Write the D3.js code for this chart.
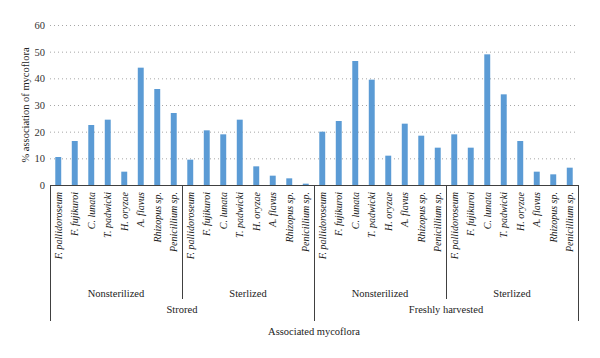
<!DOCTYPE html>
<html><head><meta charset="utf-8">
<script src="https://cdn.jsdelivr.net/npm/d3@7"></script>
<style>body{margin:0;background:#fff}</style>
</head><body>
<svg id="c" width="600" height="358"></svg>
<script>
const species = ["F. pallidoroseum","F. fujikuroi","C. lunata","T. padwicki","H. oryzae","A. flavus","Rhizopus sp.","Penicillium sp."];
const subgroups = ["Nonsterilized","Sterlized","Nonsterilized","Sterlized"];
const groups = ["Strored","Freshly harvested"];
const storedNonsterilized = [10.5,16.5,22.5,24.5,5,44,36,27];
const storedSterlized = [9.5,20.5,19,24.5,7,3.5,2.5,0.5];
const freshNonsterilized = [20,24,46.5,39.5,11,23,18.5,14];
const freshSterlized = [19,14,49,34,16.5,5,4,6.5];
const yTicks = [0,10,20,30,40,50,60];

const seriesList = [storedNonsterilized, storedSterlized, freshNonsterilized, freshSterlized];
const data = [];
seriesList.forEach((s,gi)=>s.forEach((v,i)=>data.push({key:gi+"_"+i, name:species[i], sub:gi, value:v})));

const svg = d3.select("#c");
const L=50, R=578, T=25, B=185;
const x = d3.scaleBand().domain(data.map(d=>d.key)).range([L,R]).paddingInner(0.64).paddingOuter(0.32);
const y = d3.scaleLinear().domain([0,60]).range([B,T]);
const serif = "'Liberation Serif','Times New Roman',serif";

// gridlines
svg.append("g").selectAll("line").data(yTicks.filter(t=>t>0)).join("line")
  .attr("x1",L).attr("x2",R).attr("y1",d=>y(d)+0.5).attr("y2",d=>y(d)+0.5)
  .attr("stroke","#a6a6a6").attr("stroke-width",1).attr("stroke-dasharray","1,3");

// y tick labels
const ya = svg.append("g").attr("transform",`translate(${L},0)`)
  .call(d3.axisLeft(y).tickValues(yTicks).tickSize(0).tickPadding(5));
ya.select(".domain").remove();
ya.selectAll("text").attr("font-family",serif).attr("font-size",10.5).attr("fill","#333");

// bars
svg.append("g").selectAll("rect").data(data).join("rect")
  .attr("x",d=>x(d.key)).attr("width",x.bandwidth())
  .attr("y",d=>y(d.value)).attr("height",d=>y(0)-y(d.value))
  .attr("fill","#5b9bd5");

// category axis
const xa = svg.append("g").attr("transform",`translate(0,${B})`)
  .call(d3.axisBottom(x).tickSize(0).tickFormat(k=>data.find(d=>d.key===k).name));
xa.select(".domain").remove();
xa.selectAll("text").attr("font-family",serif).attr("font-style","italic").attr("font-size",10)
  .attr("fill","#222").attr("text-anchor","end").attr("dy","0.35em")
  .attr("transform","translate(0,7) rotate(-90)").attr("x",0).attr("y",0);

// axis structure lines
const ln = svg.append("g").attr("stroke","#404040").attr("stroke-width",1);
ln.append("line").attr("x1",L).attr("x2",R).attr("y1",B+0.5).attr("y2",B+0.5);
const subW = (R-L)/4;
[0,1,2,3,4].forEach(i=>{
  const xx = Math.round(L+i*subW)+0.5;
  const long = (i%2===0);
  ln.append("line").attr("x1",xx).attr("x2",xx).attr("y1",B).attr("y2",long?321:299);
});

// subgroup labels
svg.append("g").selectAll("text").data(subgroups).join("text")
  .attr("x",(d,i)=>L+(i+0.5)*subW).attr("y",297)
  .attr("text-anchor","middle").attr("font-family",serif).attr("font-size",10.5).attr("fill","#222")
  .text(d=>d);
svg.append("g").selectAll("text").data(groups).join("text")
  .attr("x",(d,i)=>L+(i*2+1)*subW).attr("y",313)
  .attr("text-anchor","middle").attr("font-family",serif).attr("font-size",10.5).attr("fill","#222")
  .text(d=>d);

// axis titles
svg.append("text").attr("x",(L+R)/2).attr("y",335).attr("text-anchor","middle")
  .attr("font-family",serif).attr("font-size",10.5).attr("fill","#222").text("Associated mycoflora");
svg.append("text").attr("transform",`translate(29,105) rotate(-90)`).attr("text-anchor","middle")
  .attr("font-family",serif).attr("font-size",10.5).attr("fill","#222").text("% association of mycoflora");
</script>
</body></html>
